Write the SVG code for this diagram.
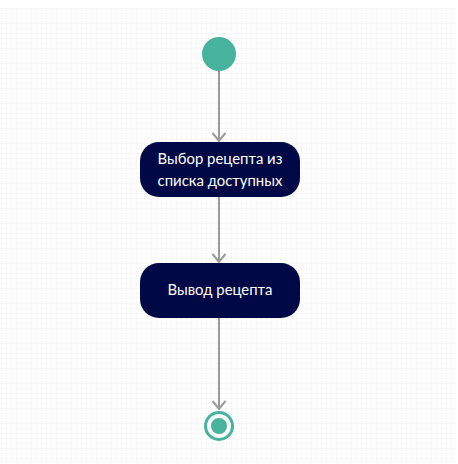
<svg xmlns="http://www.w3.org/2000/svg" width="458" height="464" viewBox="0 0 458 464">
<defs>
<pattern id="grid" x="2" y="4" width="5" height="5" patternUnits="userSpaceOnUse">
<path d="M5 0V5M0 5H5" fill="none" stroke="#f0f0f0" stroke-width="1"/>
</pattern>
<marker id="arr" markerWidth="14" markerHeight="14" refX="11" refY="7" orient="auto" markerUnits="userSpaceOnUse" viewBox="0 0 14 14">
<path d="M3 0.5L11 7L3 13.5" fill="none" stroke="#999999" stroke-width="2"/>
</marker>
<style>
.node{fill:#000845;}
.label{fill:#ffffff;font-family:Lato,"Liberation Sans",sans-serif;font-size:14.9px;text-anchor:middle;}
.edge{stroke:#999999;stroke-width:2;fill:none;}
</style>
</defs>
<rect x="0" y="0" width="458" height="464" fill="#ffffff"/>
<rect x="0" y="8" width="456" height="454" fill="url(#grid)"/>
<g id="connectors">
<path class="edge" d="M219 71V141" marker-end="url(#arr)"/>
<path class="edge" d="M219 197V262" marker-end="url(#arr)"/>
<path class="edge" d="M219 318V409" marker-end="url(#arr)"/>
</g>
<g id="start">
<circle cx="219" cy="54" r="17" fill="#47b39c"/>
</g>
<g id="node1">
<rect class="node" x="140" y="142" width="160" height="55" rx="19"/>
<text class="label" x="220" y="164">Выбор рецепта из</text>
<text class="label" x="220" y="186">списка доступных</text>
</g>
<g id="node2">
<rect class="node" x="140" y="263" width="160" height="55" rx="19"/>
<text class="label" x="220" y="295">Вывод рецепта</text>
</g>
<g id="end">
<circle cx="219" cy="426" r="13.5" fill="none" stroke="#47b39c" stroke-width="3"/>
<circle cx="219" cy="426" r="8" fill="#47b39c"/>
</g>
</svg>
